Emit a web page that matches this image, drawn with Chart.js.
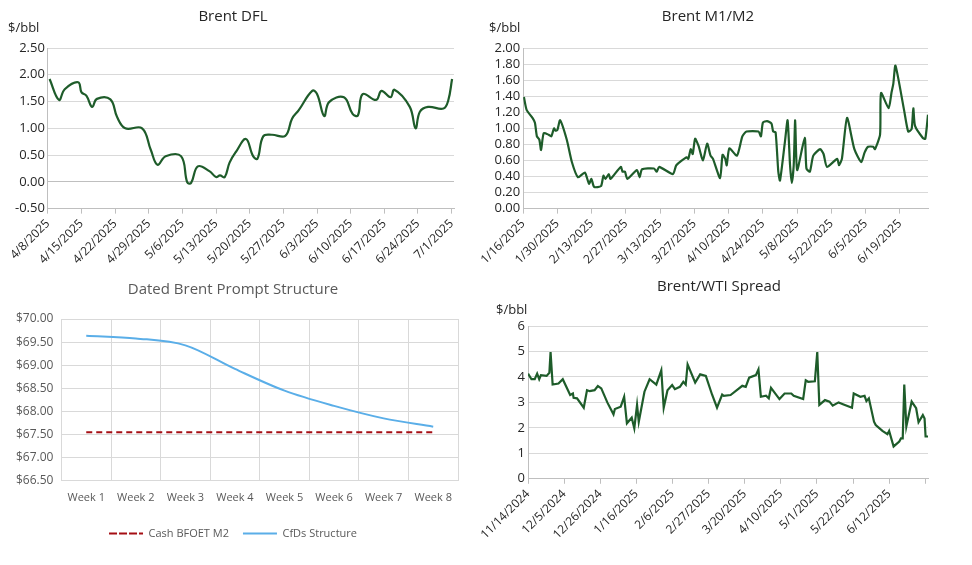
<!DOCTYPE html>
<html>
<head>
<meta charset="utf-8">
<script src="https://cdn.jsdelivr.net/npm/chart.js@4.4.1/dist/chart.umd.min.js"></script>
<style>
  body { margin: 0; background: #fff; width: 972px; height: 565px; position: relative; overflow: hidden; font-family: "Open Sans", sans-serif; }
  .box { position: absolute; }
  .unit { position: absolute; font: 13px "Open Sans", sans-serif; color: #262626; }
</style>
</head>
<body>
<div class="box" style="left:0;top:0;width:470px;height:270px"><canvas id="dfl"></canvas></div>
<div class="box" style="left:480px;top:0;width:470px;height:270px"><canvas id="m1m2"></canvas></div>
<div class="box" style="left:0;top:275px;width:470px;height:290px"><canvas id="prompt"></canvas></div>
<div class="box" style="left:480px;top:270px;width:470px;height:295px"><canvas id="wti"></canvas></div>
<span class="unit" style="left:8px;top:18px">$/bbl</span>
<span class="unit" style="left:489px;top:18px">$/bbl</span>
<span class="unit" style="left:496px;top:300px">$/bbl</span>
<script>
// day offsets from each chart's start date
const dflStart = [2025, 4, 8];
const dflDays = [0.35,2.3,3.5,6.3,7,8,9.2,10.2,13,14.4,16.1,19.6,21.4,22.8,24.5,27.7,29,29.8,31.2,33.6,35,35.8,36.8,37.8,39.2,41.2,42.7,43.6,44.8,46.6,49.4,50.8,52.2,55,56,57.5,58.5,61.6,63.4,64.5,65.5,68.3,69.4,71.3,72.1,75.3,76.5,77.4,79.1,82.3,83.3,84.1];
const dflValues = [1.92,1.53,1.73,1.86,1.67,1.61,1.40,1.55,1.54,1.21,1.00,1.00,0.60,0.32,0.48,0.48,-0.01,-0.02,0.29,0.20,0.09,0.12,0.09,0.36,0.57,0.80,0.48,0.43,0.85,0.88,0.86,1.18,1.34,1.70,1.64,1.23,1.49,1.58,1.27,1.24,1.64,1.53,1.70,1.58,1.72,1.40,1.00,1.31,1.40,1.37,1.52,1.92];

const m1m2Start = [2025, 1, 16];
const m1m2Days = [0.3,1.4,3.8,4.8,5.6,6.6,7.3,8.4,10.4,11.5,12.6,13.2,14,15.1,17.8,19.9,22.4,25.2,26.9,27.9,29,31.8,32.8,33.6,35,35.7,39.9,40.6,41.6,42.6,46.5,47.6,48.6,53.5,54.6,55.6,61.2,62.6,66.8,67.5,68.5,69.3,70.3,71.7,73.5,75.2,76.6,77.6,80.5,81.5,82.6,83.2,84.3,87.4,89.6,91.3,96.2,97.2,98,99.7,101.5,102.2,103.2,104.3,105,107,108.1,109.1,109.8,110.6,111.2,112,115.1,115.8,117.2,118.6,121.4,122.8,124.2,128.4,129.1,130.3,132.4,135.4,138.2,139.6,141,143.1,143.8,145.9,146.3,149.4,150.6,151.3,152.2,155.7,157.4,158.8,159.5,160.2,163.4,164.4,165.5];
const m1m2Values = [1.39,1.23,1.13,1.07,0.90,0.86,0.73,0.94,0.92,0.90,1.00,0.97,0.98,1.10,0.86,0.58,0.39,0.45,0.31,0.37,0.27,0.28,0.41,0.37,0.43,0.37,0.52,0.46,0.46,0.37,0.48,0.39,0.49,0.50,0.46,0.52,0.43,0.54,0.64,0.62,0.74,0.68,0.87,0.78,0.60,0.81,0.66,0.62,0.38,0.67,0.62,0.54,0.75,0.66,0.90,0.96,0.96,0.90,1.07,1.09,1.06,0.96,0.95,0.46,0.35,0.83,1.10,0.54,0.32,0.54,1.10,0.48,0.88,0.50,0.46,0.66,0.74,0.68,0.52,0.62,0.54,0.62,1.13,0.74,0.58,0.70,0.77,0.77,0.74,0.92,1.44,1.25,1.45,1.55,1.78,1.23,0.96,0.99,1.25,1.03,0.88,0.87,1.17];

const wtiStart = [2024, 11, 14];
const wtiDays = [0,2,3.9,5.3,6.5,7.5,10.8,12.4,13.1,14.3,17.7,20.2,24.5,26.1,26.5,28.5,32.4,34.3,35.9,38.7,40.6,42.6,46.1,49.7,50.5,53.9,55.9,57.5,60.3,61.8,63.4,64.4,67.7,70.7,74.6,77.5,78.9,81.1,83.8,85.4,88.3,90.3,91.7,92.8,97.2,100.1,103.4,107,109.9,112.9,113.8,117.8,124.6,126.6,128.6,132.5,134,135.4,138.4,140,141.3,146.2,149.2,153.1,154.5,160,161.5,162.9,166.8,168.2,169.4,172.7,175.3,177.2,180.6,183.5,188.4,189.4,193.3,195.7,196.8,198.2,201.2,202.2,206.1,209,210,212.6,215.9,216.9,217.9,218.8,220,223.1,225.7,227.1,229.6,230.6,231.2,232.6];
const wtiValues = [4.13,3.91,3.91,4.13,3.91,4.07,4.04,4.16,4.98,3.70,3.74,3.91,3.29,3.35,3.18,3.16,2.79,3.48,3.44,3.48,3.64,3.55,3.00,2.53,2.74,2.83,3.22,2.18,2.40,1.98,2.90,2.24,3.42,3.91,3.70,4.26,2.79,3.48,3.68,3.52,3.61,3.81,3.70,4.49,3.78,4.10,4.04,3.31,2.79,3.31,3.26,3.29,3.65,3.61,3.97,4.07,4.30,3.22,3.26,3.16,3.57,3.13,3.35,3.35,3.26,3.13,3.87,3.81,3.83,4.98,2.90,3.09,3.03,2.87,3.00,2.92,2.79,3.35,3.22,3.26,3.05,3.16,2.24,2.11,1.88,1.75,1.88,1.27,1.46,1.59,1.59,3.70,2.05,3.03,2.77,2.22,2.50,2.37,1.66,1.66];

const weeks = ['Week 1','Week 2','Week 3','Week 4','Week 5','Week 6','Week 7','Week 8'];
const cashBfoet = [67.55,67.55,67.55,67.55,67.55,67.55,67.55,67.55];
const cfds = [69.64,69.58,69.43,68.92,68.45,68.12,67.85,67.67];

const GREEN = '#1e5c2a';
const GRID = '#d9d9d9';
const TXT = '#262626';
const FONT = '"Open Sans", sans-serif';

function toPoints(days, vals) { return days.map((d, i) => ({ x: d, y: vals[i] })); }
function dateLabel(start, off) {
  const d = new Date(start[0], start[1] - 1, start[2] + Math.round(off));
  return (d.getMonth() + 1) + '/' + d.getDate() + '/' + d.getFullYear();
}

function timeChart(id, title, start, days, vals, opts) {
  new Chart(document.getElementById(id), {
    type: 'line',
    data: { datasets: [{ data: toPoints(days, vals), borderColor: GREEN, borderWidth: 2.2, pointRadius: 0, tension: opts.tension }] },
    options: {
      responsive: true, maintainAspectRatio: false, animation: false,
      layout: { padding: opts.padding },
      plugins: {
        legend: { display: false },
        title: { display: true, text: title, color: TXT, font: { family: FONT, size: 15, weight: 'normal' }, padding: { top: 8, bottom: opts.titleGap } }
      },
      scales: {
        x: {
          type: 'linear', min: 0, max: opts.xmax,
          afterBuildTicks: ax => { const t = []; for (let v = 0; v <= opts.xmax; v += opts.step) t.push({ value: v }); ax.ticks = t; },
          grid: { drawOnChartArea: false, tickLength: 5, color: '#bfbfbf' },
          border: { color: '#bfbfbf' },
          ticks: { autoSkip: false, maxRotation: 45, minRotation: 45, color: TXT, font: { family: FONT, size: 12 }, callback: v => opts.lastLabel !== undefined && v > opts.lastLabel ? '' : dateLabel(start, v) }
        },
        y: {
          min: opts.ymin, max: opts.ymax,
          ticks: { autoSkip: false, stepSize: opts.ystep, color: TXT, font: { family: FONT, size: 13 }, callback: v => opts.fmt(v) },
          grid: { color: ctx => ctx.tick.value === 0 ? '#bfbfbf' : GRID, drawTicks: false },
          border: { color: '#bfbfbf' }
        }
      }
    }
  });
}

timeChart('dfl', 'Brent DFL', dflStart, dflDays, dflValues,
  { tension: 0.4, xmax: 84.5, step: 7, ymin: -0.5, ymax: 2.5, ystep: 0.5, fmt: v => v.toFixed(2), padding: { left: 12, right: 16, top: 0, bottom: 0 }, titleGap: 22 });
timeChart('m1m2', 'Brent M1/M2', m1m2Start, m1m2Days, m1m2Values,
  { tension: 0.2, xmax: 165.5, step: 14, ymin: 0, ymax: 2, ystep: 0.2, fmt: v => v.toFixed(2), padding: { left: 8, right: 22, top: 0, bottom: 0 }, titleGap: 22, lastLabel: 160 });
timeChart('wti', 'Brent/WTI Spread', wtiStart, wtiDays, wtiValues,
  { tension: 0, xmax: 232.6, step: 21, ymin: 0, ymax: 6, ystep: 1, fmt: v => v, padding: { left: 30, right: 22, top: 0, bottom: 20 }, titleGap: 30, lastLabel: 220 });

new Chart(document.getElementById('prompt'), {
  type: 'line',
  data: {
    labels: weeks,
    datasets: [
      { label: 'Cash BFOET M2', data: cashBfoet, borderColor: '#a50f15', borderWidth: 2, borderDash: [6, 4], pointRadius: 0 },
      { label: 'CfDs Structure', data: cfds, borderColor: '#5aaee8', borderWidth: 2, pointRadius: 0, cubicInterpolationMode: 'monotone' }
    ]
  },
  options: {
    responsive: true, maintainAspectRatio: false, animation: false,
    layout: { padding: { left: 8, right: 12, top: 0, bottom: 16 } },
    plugins: {
      title: { display: true, text: 'Dated Brent Prompt Structure', color: '#595959', font: { family: FONT, size: 15, weight: 'normal' }, padding: { top: 6, bottom: 20 } },
      legend: { position: 'bottom', labels: { color: '#595959', font: { family: FONT, size: 11 }, boxWidth: 34, boxHeight: 0, padding: 14,
        generateLabels: ch => ch.data.datasets.map((ds, i) => ({ text: ds.label, strokeStyle: ds.borderColor, fillStyle: ds.borderColor, lineWidth: 2, lineDash: ds.borderDash || [], datasetIndex: i, fontColor: '#595959' })) } }
    },
    scales: {
      x: { offset: true, grid: { color: GRID, offset: true, drawTicks: false }, border: { color: GRID }, ticks: { color: '#595959', font: { family: FONT, size: 11 }, padding: 10 } },
      y: { min: 66.5, max: 70, ticks: { stepSize: 0.5, color: '#595959', font: { family: FONT, size: 12 }, padding: 8, callback: v => '$' + v.toFixed(2) }, grid: { color: GRID, drawTicks: false }, border: { color: GRID } }
    }
  }
});
</script>
</body>
</html>
